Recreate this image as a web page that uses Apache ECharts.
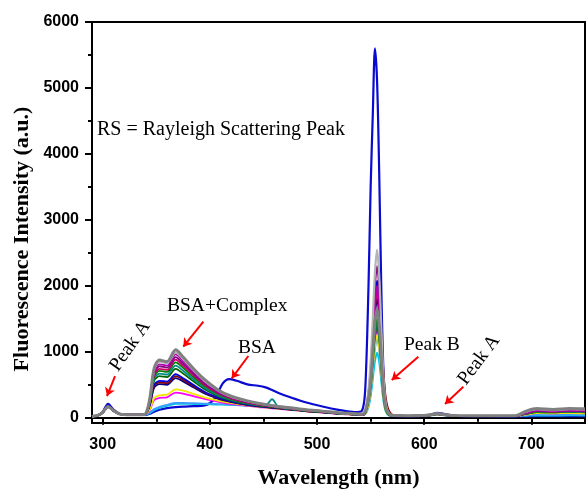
<!DOCTYPE html>
<html>
<head>
<meta charset="utf-8">
<script src="https://cdn.jsdelivr.net/npm/echarts@6/dist/echarts.min.js"></script>
<style>
  html, body { margin: 0; padding: 0; background: #fff; }
  #chart { width: 587px; height: 489px; }
</style>
</head>
<body>
<div id="chart"></div>
<script>
// Emission wavelengths (nm) shared by every spectrum
const wavelength = [290,296,300,305,310,316,325,335,340,344,348,353,360,368,375,385,395,405,412,418,425,435,445,452,458,464,475,490,505,520,535,542,545,548,550,552,554,556,558,560,562,564,567,572,585,600,607,612,618,630,660,685,695,705,720,735,750];

// Fluorescence intensity (a.u.) of each spectrum
const bsa        = [15,40,90,210,125,60,50,50,40,60,90,120,145,160,168,175,185,300,520,585,560,505,485,460,420,375,310,230,170,120,85,110,450,2000,3500,4600,5600,5100,3700,1900,680,220,50,25,25,28,50,75,60,28,22,20,20,22,22,22,22];
const cyanI      = [20,40,80,165,105,55,45,45,48,70,115,150,180,210,212,208,205,200,198,195,190,182,170,160,152,145,130,106,86,66,50,42,55,160,320,580,850,985,840,530,240,95,32,25,24,25,36,48,36,25,24,24,30,35,33,35,34];
const lightBlueI = [20,40,80,165,105,55,45,45,50,80,130,165,195,225,225,220,215,210,205,200,195,185,172,163,155,148,133,110,90,70,52,45,60,190,390,710,1040,1200,1020,640,290,110,38,26,25,26,38,50,38,26,25,25,35,45,43,47,45];
const magentaI   = [20,40,80,165,105,55,45,45,55,120,270,300,310,380,365,325,285,252,230,215,200,180,162,152,143,135,119,96,79,60,47,40,62,215,440,800,1170,1350,1150,720,320,125,42,28,26,28,40,52,40,28,26,26,50,72,68,75,70];
const yellowI    = [20,40,80,165,105,55,45,45,55,130,300,340,350,430,410,360,310,270,245,228,212,188,168,157,147,139,122,98,80,61,48,41,60,200,410,740,1080,1250,1060,670,300,115,40,28,26,28,40,52,40,28,26,26,48,70,65,72,68];
const navyI      = [20,40,80,170,108,55,45,45,58,190,455,510,500,600,550,458,370,305,267,244,221,193,173,161,150,141,124,100,83,63,50,43,78,300,590,1060,1550,1800,1530,960,430,170,55,30,28,30,45,58,45,30,28,28,65,100,95,105,98];
const darkRedI   = [20,40,80,165,105,55,45,45,58,200,480,535,525,630,575,477,383,314,274,250,226,197,176,164,153,144,126,101,84,64,50,43,80,320,620,1120,1640,1900,1700,1250,700,320,110,35,28,30,45,58,45,30,28,28,62,95,90,100,95];
const blueI      = [20,40,80,175,110,55,45,45,58,210,500,560,548,660,600,495,395,322,280,255,230,200,178,166,155,146,128,103,85,65,51,44,90,370,690,1230,1800,2080,1770,1110,500,200,60,30,28,30,45,60,45,30,28,28,68,100,95,105,100];
const darkGreenI = [20,40,80,165,105,55,45,45,58,230,560,630,615,740,670,548,432,348,300,270,242,210,185,172,160,150,131,105,87,66,52,45,76,250,460,830,1220,1400,1190,750,340,130,44,28,27,28,42,55,42,28,27,27,58,85,80,88,82];
const tealI      = [20,40,80,165,105,55,45,45,58,240,590,670,655,790,712,580,456,365,313,282,251,217,190,185,280,162,134,107,88,67,53,46,78,260,480,860,1260,1450,1230,780,350,135,45,28,27,28,42,55,42,28,27,27,60,85,80,90,85];
const greenI     = [20,40,80,165,105,55,45,45,58,250,620,710,695,840,755,612,480,382,326,293,260,224,195,180,167,155,136,109,90,68,54,47,80,270,500,890,1300,1500,1270,800,360,140,48,28,27,28,42,55,42,28,27,27,62,90,85,95,90];
const crimsonI   = [20,40,80,165,105,55,45,45,58,260,650,740,725,880,790,640,500,395,337,302,268,230,200,184,170,158,139,111,92,70,55,48,90,340,640,1140,1660,1930,1640,1030,470,180,60,30,28,30,45,58,45,30,28,28,66,100,90,100,95];
const purpleI    = [20,40,80,165,105,55,45,45,58,270,680,780,760,920,825,665,520,410,348,312,277,237,205,188,174,162,142,113,94,71,56,50,100,400,760,1350,1980,2300,1950,1220,550,210,65,30,28,30,45,58,45,30,28,28,70,105,95,105,100];
const orchidI    = [20,40,80,165,105,55,45,45,58,280,700,810,790,960,860,690,540,425,360,322,285,243,210,193,178,165,145,115,96,72,57,50,95,360,660,1180,1720,2000,1690,1060,480,190,60,30,28,30,45,60,45,30,28,28,72,110,100,110,105];
const silverI    = [20,40,80,165,105,55,45,45,58,290,730,850,830,990,890,715,560,440,370,330,292,250,215,197,182,168,148,118,98,74,58,52,110,420,850,1500,2200,2550,2150,1350,600,230,70,32,30,32,48,62,48,32,30,30,90,130,115,130,125];
const grayI      = [20,40,80,170,110,55,45,45,60,300,750,874,850,1030,920,740,580,450,380,340,300,255,220,200,185,170,150,120,100,75,60,55,100,300,550,1000,1450,1650,1400,900,420,170,60,32,30,32,50,65,50,32,30,30,100,140,125,140,135];

// Axis ticks
const xMajorTicks = [300, 400, 500, 600, 700];
const xMinorTicks = [350, 450, 550, 650];
const yMajorTicks = [0, 1000, 2000, 3000, 4000, 5000, 6000];
const yMinorTicks = [500, 1500, 2500, 3500, 4500, 5500];

// Annotation arrows: [from, to] in data units (nm, a.u.)
const arrows = [
  [[311.5, 632], [304.0, 329]],
  [[393.9, 1456], [375.2, 1077]],
  [[435.9, 936], [420.4, 597]],
  [[594.5, 925], [569.7, 572]],
  [[636.5, 470], [619.4, 208]]
];

// Drawing order and styling of the spectra
const spectra = [
  { name: 'BSA', values: bsa, color: '#0a0ad0', width: 2.2 },
  { name: 'c1', values: cyanI, color: '#00c8dc', width: 1.8 },
  { name: 'c2', values: lightBlueI, color: '#3c9cff', width: 1.8 },
  { name: 'c3', values: magentaI, color: '#ff00ff', width: 1.8 },
  { name: 'c4', values: yellowI, color: '#f2e600', width: 1.8 },
  { name: 'c5', values: navyI, color: '#000080', width: 1.8 },
  { name: 'c6', values: darkRedI, color: '#8b0000', width: 1.8 },
  { name: 'c7', values: blueI, color: '#0000dd', width: 1.8 },
  { name: 'c8', values: darkGreenI, color: '#006400', width: 1.8 },
  { name: 'c9', values: tealI, color: '#008b8b', width: 1.8 },
  { name: 'c10', values: greenI, color: '#008000', width: 1.8 },
  { name: 'c11', values: crimsonI, color: '#d0006f', width: 1.8 },
  { name: 'c12', values: purpleI, color: '#800080', width: 1.8 },
  { name: 'c13', values: orchidI, color: '#b000b0', width: 1.8 },
  { name: 'c14', values: silverI, color: '#b4b4b4', width: 2.2 },
  { name: 'c15', values: grayI, color: '#808080', width: 3 }
];

const tickFont = { fontFamily: 'Liberation Sans, Arial, sans-serif', fontWeight: 'bold', fontSize: 16, color: '#000' };
const serif = 'Liberation Serif, Times New Roman, serif';
const plain = v => String(v);

const chart = echarts.init(document.getElementById('chart'), null, { renderer: 'canvas' });

const series = spectra.map(s => ({
  name: s.name,
  type: 'line',
  xAxisIndex: 0,
  yAxisIndex: 0,
  data: wavelength.map((w, i) => [w, s.values[i]]),
  smooth: 0.3,
  showSymbol: false,
  symbol: 'none',
  lineStyle: { color: s.color, width: s.width },
  itemStyle: { color: s.color },
  silent: true
}));

series.push({
  name: 'arrows',
  type: 'line',
  data: [],
  silent: true,
  markLine: {
    silent: true,
    symbol: ['none', 'arrow'],
    symbolSize: 8,
    label: { show: false },
    lineStyle: { color: '#ff0000', width: 2, type: 'solid' },
    emphasis: { disabled: true },
    data: arrows.map(a => [{ coord: a[0] }, { coord: a[1] }])
  }
});

const option = {
  animation: false,
  backgroundColor: '#fff',
  grid: {
    left: 92, right: 2, top: 22, bottom: 66,
    show: true, borderColor: '#000', borderWidth: 2,
    containLabel: false, outerBoundsMode: 'none'
  },
  xAxis: [
    {
      type: 'value', min: 290, max: 750, position: 'bottom',
      splitLine: { show: false },
      axisLine: { show: true, lineStyle: { color: '#000', width: 2 } },
      axisTick: { show: true, customValues: xMajorTicks, length: 7, lineStyle: { color: '#000', width: 2 } },
      axisLabel: { customValues: xMajorTicks, margin: 14, formatter: plain, ...tickFont },
      name: 'Wavelength (nm)',
      nameLocation: 'middle',
      nameGap: 44,
      nameTextStyle: { fontFamily: serif, fontWeight: 'bold', fontSize: 22, color: '#000' }
    },
    {
      type: 'value', min: 290, max: 750, position: 'bottom', offset: 0,
      splitLine: { show: false },
      axisLine: { show: false },
      axisTick: { show: true, customValues: xMinorTicks, length: 4, lineStyle: { color: '#000', width: 2 } },
      axisLabel: { show: false }
    }
  ],
  yAxis: [
    {
      type: 'value', min: -80, max: 6000, position: 'left',
      splitLine: { show: false },
      axisLine: { show: true, lineStyle: { color: '#000', width: 2 } },
      axisTick: { show: true, customValues: yMajorTicks, length: 7, lineStyle: { color: '#000', width: 2 } },
      axisLabel: { customValues: yMajorTicks, margin: 13, formatter: plain, ...tickFont }
    },
    {
      type: 'value', min: -80, max: 6000, position: 'left', offset: 0,
      splitLine: { show: false },
      axisLine: { show: false },
      axisTick: { show: true, customValues: yMinorTicks, length: 4, lineStyle: { color: '#000', width: 2 } },
      axisLabel: { show: false }
    }
  ],
  graphic: [
    {
      type: 'text', x: 22, y: 239, rotation: Math.PI / 2,
      style: { text: 'Fluorescence Intensity (a.u.)', font: 'bold 22px ' + serif, fill: '#000', align: 'center', verticalAlign: 'middle' }
    },
    {
      type: 'text', x: 97, y: 130,
      style: { text: 'RS = Rayleigh Scattering Peak', font: '20px ' + serif, fill: '#000', align: 'left', verticalAlign: 'middle' }
    },
    {
      type: 'text', x: 167, y: 306,
      style: { text: 'BSA+Complex', font: '19.5px ' + serif, fill: '#000', align: 'left', verticalAlign: 'middle' }
    },
    {
      type: 'text', x: 238, y: 348,
      style: { text: 'BSA', font: '19.5px ' + serif, fill: '#000', align: 'left', verticalAlign: 'middle' }
    },
    {
      type: 'text', x: 404, y: 345,
      style: { text: 'Peak B', font: '19.5px ' + serif, fill: '#000', align: 'left', verticalAlign: 'middle' }
    },
    {
      type: 'text', x: 130, y: 346, rotation: 0.96,
      style: { text: 'Peak A', font: '19.5px ' + serif, fill: '#000', align: 'center', verticalAlign: 'middle' }
    },
    {
      type: 'text', x: 479, y: 360, rotation: 0.93,
      style: { text: 'Peak A', font: '19.5px ' + serif, fill: '#000', align: 'center', verticalAlign: 'middle' }
    }
  ],
  series: series
};

chart.setOption(option);
</script>
</body>
</html>
